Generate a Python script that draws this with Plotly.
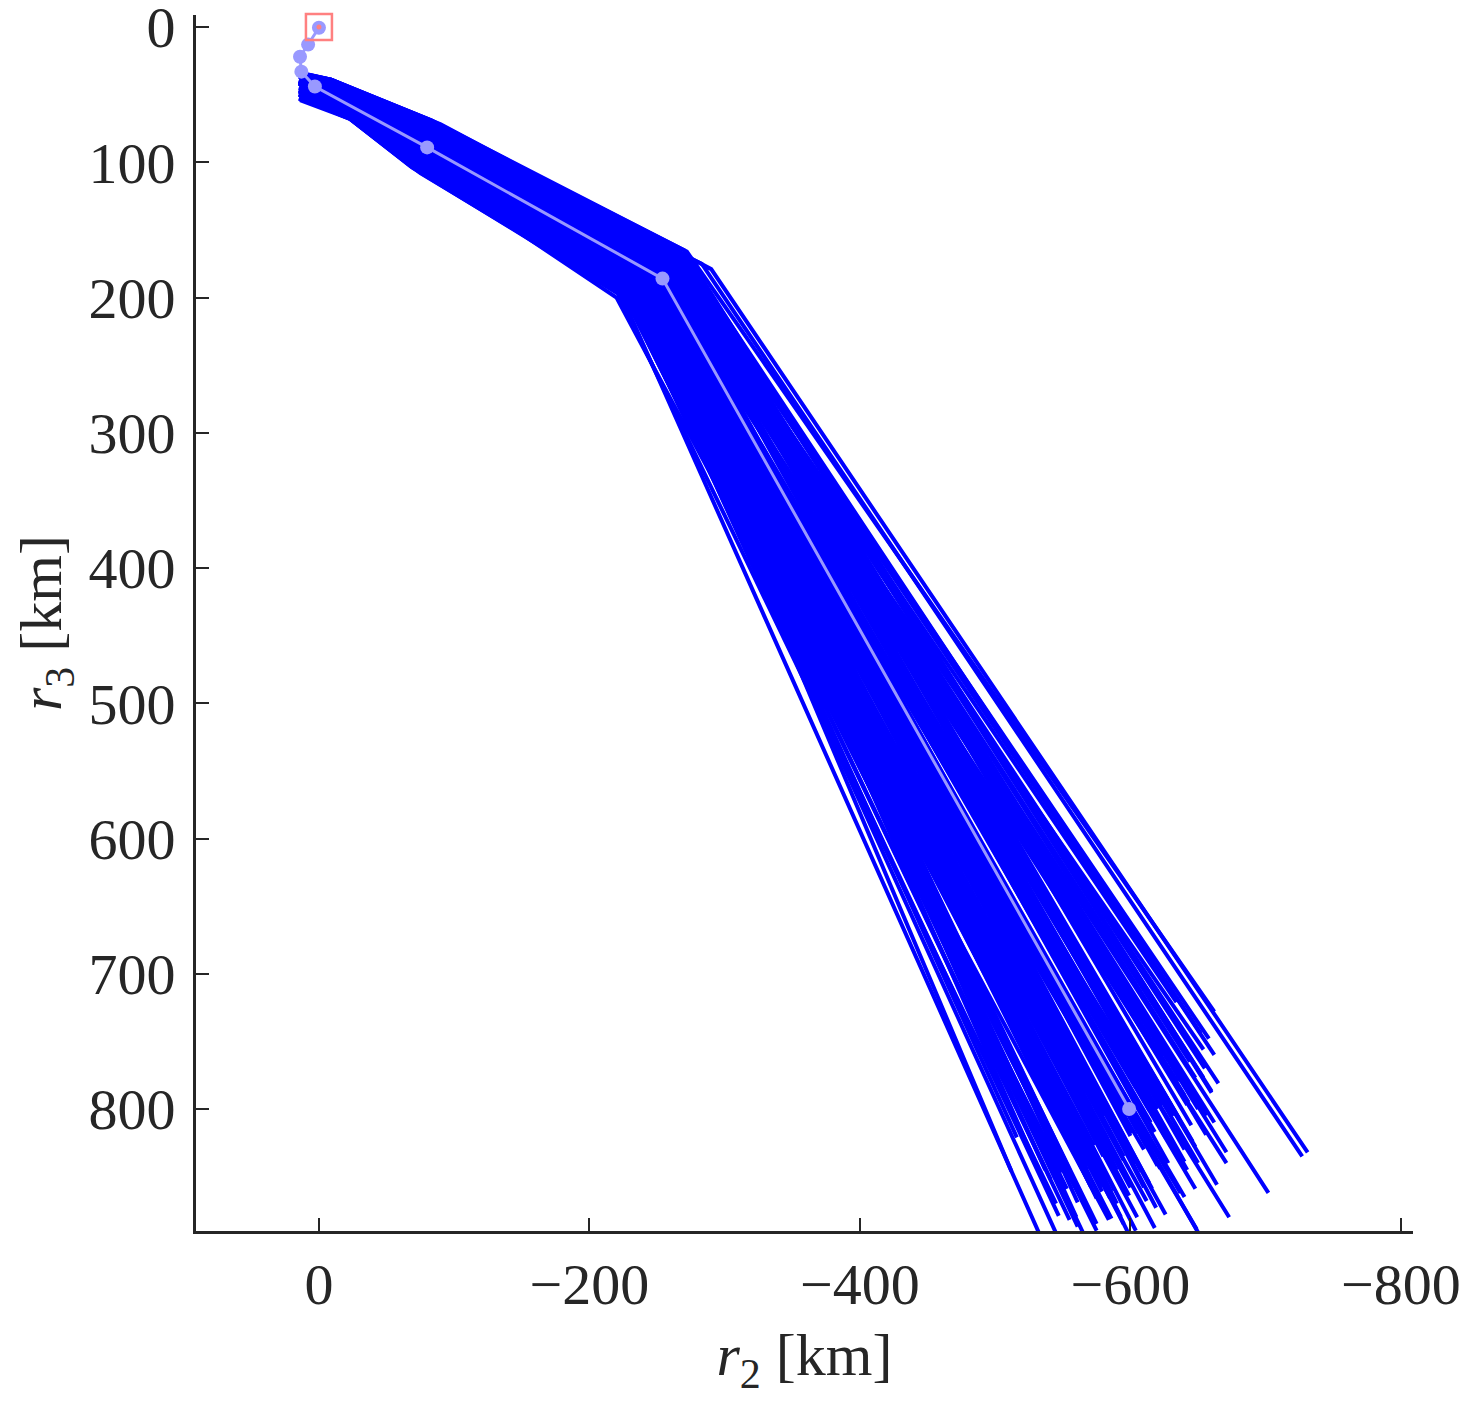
import plotly.graph_objects as go

# trajectories, group A: start, node 1, node 2, node 3, end  (r2, r3) in km
r2_start = [8, 10, 12, 14, 11, 9, 13, 15, 7, 8, 10, 12, 14, 11, 9, 13, 15, 7, 8, 10,
            12, 14, 11, 9, 13, 15, 7, 8, 10, 12, 11, 9, 13, 15, 7, 8, 10, 12, 14, 11,
            9, 13, 15, 7, 8, 10, 12, 14, 11, 9, 13, 15, 7, 8, 10, 12, 14, 11, 9, 13,
            15, 7, 8, 10, 12, 14, 11, 9, 13, 15, 7, 8, 10, 12, 14, 11, 9, 13, 15, 7]
r3_start = [49, 40, 35, 41, 46, 35, 39, 41, 38, 35, 39, 44, 38, 44, 48, 42, 47, 50, 47, 44,
            47, 52, 46, 51, 48, 41, 45, 48, 45, 36, 39, 44, 37, 47, 48, 40, 46, 50, 47, 38,
            41, 44, 41, 48, 53, 44, 44, 48, 46, 38, 47, 50, 38, 46, 54, 47, 45, 48, 39, 37,
            42, 50, 43, 45, 52, 46, 43, 46, 45, 36, 47, 49, 38, 48, 51, 39, 46, 51, 40, 41]
r2_n1 = [-20, -13, -9, -13, -17, -9, -12, -13, -11, -9, -12, -16, -11, -16, -18, -15, -18, -20, -18, -16,
         -18, -22, -17, -21, -18, -13, -16, -19, -16, -10, -12, -15, -11, -18, -19, -13, -17, -20, -18, -11,
         -13, -16, -13, -19, -22, -16, -16, -18, -17, -11, -18, -20, -12, -17, -23, -18, -16, -18, -12, -10,
         -14, -20, -15, -16, -21, -17, -15, -17, -16, -10, -18, -20, -12, -18, -21, -12, -17, -21, -13, -13]
r3_n1 = [61, 47, 39, 48, 56, 39, 45, 48, 44, 39, 45, 52, 44, 53, 59, 50, 57, 61, 57, 53,
         58, 66, 56, 63, 58, 48, 54, 59, 54, 41, 44, 52, 43, 57, 59, 47, 56, 61, 58, 43,
         48, 53, 48, 60, 66, 53, 52, 58, 56, 44, 57, 62, 44, 56, 68, 57, 54, 58, 44, 42,
         50, 62, 52, 54, 64, 56, 52, 55, 54, 41, 58, 61, 44, 58, 64, 45, 56, 63, 47, 48]
r2_n2 = [-76, -92, -83, -87, -71, -100, -81, -83, -93, -83, -77, -93, -82, -80, -85, -77, -82, -68, -90, -77,
         -78, -81, -74, -79, -69, -95, -76, -77, -88, -82, -89, -73, -98, -75, -77, -92, -73, -80, -70, -98,
         -80, -80, -91, -72, -77, -72, -92, -74, -78, -93, -73, -79, -77, -91, -69, -78, -88, -72, -89, -78,
         -94, -72, -81, -88, -69, -82, -73, -91, -77, -87, -86, -71, -89, -69, -86, -81, -79, -83, -79, -87]
r3_n2 = [98, 86, 69, 84, 87, 79, 78, 83, 82, 69, 74, 94, 76, 88, 99, 83, 95, 94, 100, 87,
         94, 107, 89, 103, 90, 89, 88, 95, 94, 72, 81, 83, 83, 92, 96, 86, 90, 100, 90, 84,
         81, 88, 87, 93, 106, 84, 94, 93, 92, 82, 90, 101, 74, 98, 104, 93, 94, 92, 81, 71,
         92, 97, 87, 94, 99, 95, 83, 98, 88, 74, 98, 95, 80, 90, 108, 78, 92, 104, 79, 84]
r2_n3 = [-235, -283, -290, -259, -241, -272, -265, -252, -265, -270, -262, -253, -260, -250, -236, -252, -245, -230, -243, -246,
         -239, -230, -239, -232, -237, -257, -250, -234, -248, -266, -263, -254, -262, -242, -235, -258, -246, -230, -241, -263,
         -257, -252, -252, -238, -224, -248, -253, -235, -244, -262, -241, -236, -259, -245, -221, -241, -250, -234, -265, -265,
         -253, -237, -246, -248, -220, -242, -254, -240, -249, -267, -240, -238, -259, -240, -227, -261, -247, -227, -260, -255]
r3_n3 = [191, 175, 179, 177, 184, 166, 176, 174, 173, 165, 173, 184, 169, 183, 187, 179, 189, 189, 188, 180,
         188, 199, 182, 195, 187, 176, 186, 186, 185, 167, 172, 184, 167, 188, 188, 175, 189, 188, 189, 169,
         176, 184, 173, 191, 195, 182, 184, 185, 187, 170, 186, 195, 169, 187, 197, 186, 186, 185, 174, 168,
         179, 195, 178, 185, 200, 186, 183, 182, 184, 167, 187, 194, 169, 190, 193, 173, 188, 190, 176, 174]
r2_end = [-512, -727, -731, -702, -673, -662, -634, -654, -665, -660, -671, -671, -664, -648, -649, -619, -604, -586, -575, -561,
          -549, -541, -529, -516, -637, -628, -614, -600, -597, -656, -662, -653, -643, -590, -610, -625, -580, -570, -555, -640,
          -620, -635, -600, -560, -545, -590, -630, -612, -578, -642, -568, -595, -650, -626, -545, -537, -608, -583, -655, -645,
          -620, -575, -600, -655, -584, -560, -615, -640, -595, -625, -552, -605, -632, -588, -568, -648, -618, -575, -640, -610]
r3_end = [846, 835, 832, 862, 880, 728, 721, 756, 781, 788, 832, 840, 856, 859, 889, 873, 890, 881, 866, 869,
          859, 852, 838, 821, 862, 840, 855, 858, 850, 819, 810, 799, 795, 845, 830, 818, 835, 850, 845, 830,
          800, 780, 820, 830, 838, 870, 850, 868, 858, 845, 875, 885, 840, 878, 870, 845, 845, 822, 770, 812,
          842, 842, 895, 900, 882, 880, 810, 865, 835, 760, 858, 880, 805, 860, 845, 828, 888, 890, 790, 858]

# trajectories, group B
r2_start_b = [9, 12, 14, 10, 8, 13, 11, 15, 9, 12, 14, 10, 8, 13, 11, 15, 9, 12, 14, 10,
              8, 13, 11, 15, 9, 12, 14, 10, 8, 13, 11, 15, 9, 12, 14, 10, 8, 13, 11, 15,
              9, 12, 14, 10, 8, 13, 11, 15, 9, 12, 14, 10, 8, 13, 11, 15, 9, 12, 14, 10]
r3_start_b = [35, 35, 36, 36, 36, 37, 37, 37, 38, 38, 38, 39, 39, 39, 40, 40, 40, 40, 41, 41,
              41, 42, 42, 42, 43, 43, 43, 44, 44, 44, 45, 45, 45, 46, 46, 46, 47, 47, 47, 48,
              48, 48, 49, 49, 49, 50, 50, 50, 50, 51, 51, 51, 52, 52, 52, 53, 53, 53, 54, 54]
r2_n1_b = [-9, -9, -9, -10, -10, -10, -10, -11, -11, -11, -11, -12, -12, -12, -12, -13, -13, -13, -13, -14,
           -14, -14, -14, -14, -15, -15, -15, -15, -16, -16, -16, -16, -17, -17, -17, -17, -18, -18, -18, -18,
           -19, -19, -19, -19, -19, -20, -20, -20, -20, -21, -21, -21, -21, -22, -22, -22, -22, -23, -23, -23]
r3_n1_b = [39, 40, 40, 40, 41, 41, 42, 42, 43, 43, 44, 44, 45, 45, 46, 46, 47, 47, 48, 48,
           49, 49, 50, 50, 51, 51, 52, 52, 53, 53, 54, 54, 55, 55, 56, 56, 57, 57, 58, 58,
           59, 59, 60, 60, 61, 61, 62, 62, 63, 63, 64, 64, 65, 65, 66, 66, 67, 67, 68, 68]
r2_n2_b = [-90, -96, -85, -92, -83, -97, -86, -88, -94, -83, -90, -81, -95, -84, -86, -91, -81, -88, -78, -93,
           -82, -84, -89, -79, -86, -76, -91, -80, -82, -87, -77, -84, -74, -89, -78, -79, -85, -75, -81, -72,
           -87, -75, -77, -83, -73, -79, -70, -85, -73, -75, -81, -70, -77, -68, -82, -71, -73, -79, -68, -75]
r3_n2_b = [72, 76, 71, 75, 71, 80, 74, 76, 80, 75, 79, 75, 84, 78, 80, 84, 79, 83, 79, 88,
           82, 84, 88, 83, 87, 83, 92, 86, 88, 92, 87, 91, 87, 96, 90, 92, 96, 91, 96, 91,
           100, 94, 96, 100, 95, 100, 95, 104, 99, 100, 104, 99, 104, 99, 108, 103, 104, 108, 103, 108]
r2_n3_b = [-270, -272, -265, -270, -265, -266, -268, -262, -266, -261, -262, -265, -258, -262, -257, -259, -261, -254, -258, -254,
           -255, -257, -250, -254, -250, -251, -253, -246, -251, -246, -247, -249, -243, -247, -242, -243, -246, -239, -243, -238,
           -240, -242, -235, -239, -234, -236, -238, -231, -235, -231, -232, -234, -227, -232, -227, -228, -230, -224, -228, -223]
r3_n3_b = [168, 171, 167, 171, 169, 171, 173, 169, 173, 171, 173, 176, 172, 176, 174, 176, 178, 175, 179, 176,
           178, 181, 177, 181, 179, 181, 183, 180, 184, 181, 183, 186, 182, 186, 184, 186, 188, 185, 189, 186,
           188, 191, 187, 191, 189, 191, 193, 190, 194, 192, 193, 196, 192, 196, 194, 196, 199, 195, 199, 197]
r2_end_b = [-662, -660, -658, -656, -654, -652, -650, -648, -646, -644, -642, -640, -638, -636, -634, -632, -630, -628, -626, -624,
            -622, -620, -618, -616, -614, -612, -610, -608, -606, -604, -603, -601, -599, -597, -595, -593, -591, -589, -587, -585,
            -583, -581, -579, -577, -575, -573, -571, -569, -567, -565, -563, -561, -559, -557, -555, -553, -551, -549, -547, -545]
r3_end_b = [760, 787, 748, 805, 777, 744, 800, 777, 824, 765, 797, 839, 780, 807, 769, 826, 797, 764, 821, 797,
            844, 786, 817, 859, 801, 828, 789, 846, 818, 784, 841, 818, 864, 806, 838, 880, 821, 848, 810, 866,
            838, 805, 861, 838, 885, 827, 858, 900, 842, 868, 830, 887, 858, 825, 882, 859, 905, 847, 879, 920]

# mean trajectory
mean_r2 = [0, 8, 14, 13, 3, -80, -254, -599]
mean_r3 = [0.5, 13, 22, 33, 44, 89, 186, 800]

groups = [
    (r2_start, r3_start, r2_n1, r3_n1, r2_n2, r3_n2, r2_n3, r3_n3, r2_end, r3_end),
    (r2_start_b, r3_start_b, r2_n1_b, r3_n1_b, r2_n2_b, r3_n2_b, r2_n3_b, r3_n3_b, r2_end_b, r3_end_b),
]

# all trajectories in one trace, separated by gaps
xs, ys = [], []
for g in groups:
    for i in range(len(g[0])):
        xs += [g[0][i], g[2][i], g[4][i], g[6][i], g[8][i], None]
        ys += [g[1][i], g[3][i], g[5][i], g[7][i], g[9][i], None]

fig = go.Figure()

fig.add_trace(
    go.Scatter(
        x=xs,
        y=ys,
        mode="lines",
        line=dict(color="#0000ff", width=4),
        hoverinfo="skip"
    )
)

fig.add_trace(
    go.Scatter(
        x=mean_r2,
        y=mean_r3,
        mode="lines+markers",
        line=dict(color="#9999ff", width=3),
        marker=dict(color="#9999ff", size=14),
        cliponaxis=False
    )
)

# origin marker
fig.add_trace(
    go.Scatter(
        x=[0],
        y=[0],
        mode="markers",
        marker=dict(symbol="square-open", size=26, color="#ff8080", line=dict(width=2.5)),
        cliponaxis=False
    )
)
fig.add_trace(
    go.Scatter(
        x=[0],
        y=[0],
        mode="markers",
        marker=dict(size=5, color="#ff8080"),
        cliponaxis=False
    )
)

font = "Liberation Serif, DejaVu Serif, serif"
axis_style = dict(
    showline=True,
    linecolor="#262626",
    linewidth=3,
    ticks="inside",
    ticklen=13,
    tickwidth=2,
    tickcolor="#262626",
    showgrid=False,
    zeroline=False,
    ticklabeloverflow="allow",
    tickfont=dict(family=font, size=58, color="#262626"),
)

# page body adds 8px, so the figure is 8px smaller and shifted back
fig.update_layout(
    width=1470,
    height=1400,
    plot_bgcolor="white",
    paper_bgcolor="white",
    showlegend=False,
    margin=dict(l=188, r=65, t=7, b=177),
    xaxis=dict(
        range=[90.9, -808.9],
        tickvals=[0, -200, -400, -600, -800],
        title=dict(text="<i>r</i><sub>2</sub> [km]", font=dict(family=font, size=60, color="#262626"), standoff=18),
        automargin=False,
        **axis_style
    ),
    yaxis=dict(
        range=[890.2, -8.9],
        tickvals=[0, 100, 200, 300, 400, 500, 600, 700, 800],
        title=dict(text="<i>r</i><sub>3</sub> [km]", font=dict(family=font, size=60, color="#262626"), standoff=22),
        ticklabelstandoff=6,
        automargin=False,
        **axis_style
    ),
)

fig.write_html("out.html")
